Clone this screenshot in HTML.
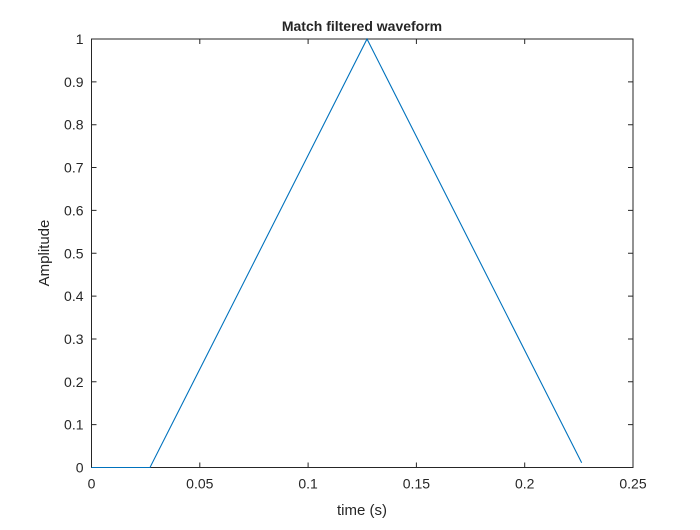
<!DOCTYPE html>
<html><head><meta charset="utf-8"><style>
body{margin:0;background:#fff;}
svg text{font-family:"Liberation Sans",Arial,sans-serif;fill:#262626;}
</style></head><body>
<svg id="chart" width="700" height="525" xmlns="http://www.w3.org/2000/svg">
<rect x="0" y="0" width="700" height="525" fill="#fff"/>
<g id="grid"></g>
<text x="362" y="31" text-anchor="middle" font-size="14" font-weight="bold" fill="#000">Match filtered waveform</text>
<text x="362" y="515" text-anchor="middle" font-size="15">time (s)</text>
<text transform="translate(49,253) rotate(-90)" text-anchor="middle" font-size="15">Amplitude</text>
</svg>
<script>
const xTicks=[0,0.05,0.1,0.15,0.2,0.25];
const xTickLabels=["0","0.05","0.1","0.15","0.2","0.25"];
const yTicks=[0,0.1,0.2,0.3,0.4,0.5,0.6,0.7,0.8,0.9,1];
const yTickLabels=["0","0.1","0.2","0.3","0.4","0.5","0.6","0.7","0.8","0.9","1"];
const timeValues=[0,0.027,0.1272,0.2263];
const amplitudeValues=[0,0,1,0.011];
const L=91.5,R=633,T=39,B=467.5;
const sx=v=>L+(v-0)/(0.25-0)*(R-L);
const sy=v=>B-(v-0)/(1-0)*(B-T);
const NS="http://www.w3.org/2000/svg";
const g=document.getElementById('grid');
function mk(t,a){const e=document.createElementNS(NS,t);for(const k in a)e.setAttribute(k,a[k]);g.appendChild(e);return e;}
const box=mk('rect',{x:L,y:T,width:R-L,height:B-T,fill:'none',stroke:'#262626','stroke-width':1});


xTicks.forEach((v,i)=>{
  const x=sx(v);
  const t1=mk('path',{d:`M${x},${B}V${B-5}M${x},${T}V${T+5}`,stroke:'#262626'});
  
  
  const tx=mk('text',{x:x,y:B+21,'text-anchor':'middle','font-size':'14'});
  tx.textContent=xTickLabels[i];
  
  
});
yTicks.forEach((v,i)=>{
  const y=sy(v);
  const t1=mk('path',{d:`M${L},${y}H${L+5}M${R},${y}H${R-5}`,stroke:'#262626'});
  
  
  const tx=mk('text',{x:L-8,y:y+5,'text-anchor':'end','font-size':'14'});
  tx.textContent=yTickLabels[i];
  
  
});
const pts=timeValues.map((t,i)=>sx(t)+','+sy(amplitudeValues[i])).join(' ');
const line=mk('polyline',{points:pts,fill:'none',stroke:'#0072bd','stroke-width':1.1});


</script>
</body></html>
